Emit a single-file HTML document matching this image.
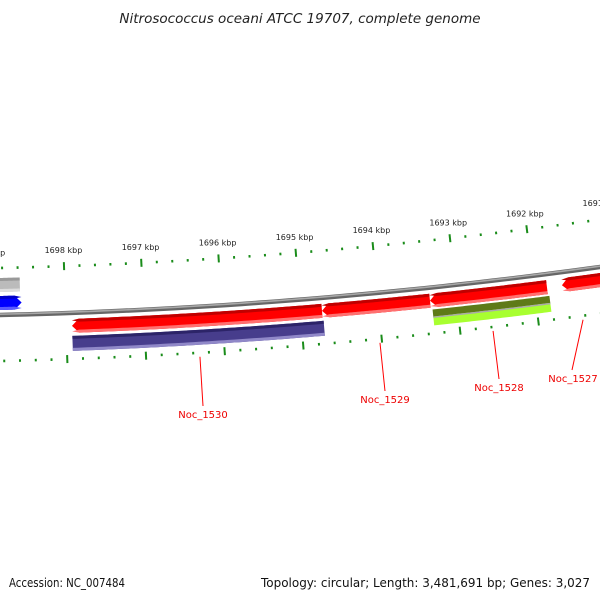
<!DOCTYPE html>
<html><head><meta charset="utf-8">
<style>
html,body{margin:0;padding:0;background:#fff;}
svg{display:block;font-family:"DejaVu Sans","Liberation Sans",sans-serif;}
</style></head>
<body>
<svg id="map" width="600" height="600" viewBox="0 0 600 600" xmlns="http://www.w3.org/2000/svg">
<rect width="600" height="600" fill="#fff"/>
<text x="300" y="23" text-anchor="middle" font-size="13.5" font-style="italic" fill="#222">Nitrosococcus oceani ATCC 19707, complete genome</text>
<text x="9" y="587" font-size="12" fill="#111" textLength="116" lengthAdjust="spacingAndGlyphs">Accession: NC_007484</text>
<text x="261" y="587" font-size="12" fill="#111" textLength="329" lengthAdjust="spacingAndGlyphs">Topology: circular; Length: 3,481,691 bp; Genes: 3,027</text>
<g id="layer"></g>
</svg>
<script>
// data
const majorTicks = [1699000,1698000,1697000,1696000,1695000,1694000,1693000,1692000,1691000];
const majorTickLabels = ["1699 kbp","1698 kbp","1697 kbp","1696 kbp","1695 kbp","1694 kbp","1693 kbp","1692 kbp","1691 kbp"];
const geneNames = ["Noc_1531a","Noc_1531b","Noc_1530","Noc_1530cog","Noc_1529","Noc_1528","Noc_1528cog","Noc_1527"];
const geneStarts = [1698577,1698560,1694726,1694716,1693341,1691837,1691820,1690500];
const geneEnds   = [1699600,1699600,1697925,1697925,1694726,1693341,1693320,1691644];
const geneStrand = [0,1,-1,0,-1,-1,0,-1];
const geneTrack  = ["gray","blue","red","purple","red","red","green","red"];
const labelGenes = ["Noc_1530","Noc_1529","Noc_1528","Noc_1527"];
const labelBp    = [1696317,1694027,1692585,1691435];

const NS="http://www.w3.org/2000/svg";
const layer=document.getElementById('layer');
const R=5260, cx=-119, cy=316.35-5260;
const K=1.485e-5, TH0=Math.asin(183/5213), BP0=1698000;
function ang(bp){return TH0+(BP0-bp)*K;}
function pt(r,t){return [cx+r*Math.sin(t), cy+r*Math.cos(t)];}
function mk(tag,attrs){const e=document.createElementNS(NS,tag);for(const k in attrs)e.setAttribute(k,attrs[k]);layer.appendChild(e);return e;}
function arcPath(r,t1,t2){let d='';const n=60;for(let i=0;i<=n;i++){const p=pt(r,t1+(t2-t1)*i/n);d+=(i?'L':'M')+p[0].toFixed(2)+' '+p[1].toFixed(2);}return d;}
function band(r1,r2,bpA,bpB,strand){
  const tL=ang(bpB), tR=ang(bpA);
  const ah=7/(r1+r2)*2;
  let a=tL,b=tR;
  if(strand===-1)a=tL+ah;
  if(strand===1)b=tR-ah;
  const n=50;let pts=[];
  for(let i=0;i<=n;i++)pts.push(pt(r1,a+(b-a)*i/n));
  if(strand===1)pts.push(pt((r1+r2)/2,tR));
  for(let i=n;i>=0;i--)pts.push(pt(r2,a+(b-a)*i/n));
  if(strand===-1)pts.push(pt((r1+r2)/2,tL));
  return pts.map((p,i)=>(i?'L':'M')+p[0].toFixed(2)+' '+p[1].toFixed(2)).join('')+'Z';
}
let e=mk('path',{d:arcPath(R,-0.02,0.17),fill:'none',stroke:'#666',"stroke-width":4.5});


e=mk('path',{d:arcPath(R-0.8,-0.02,0.17),fill:'none',stroke:'#a8a8a8',"stroke-width":1.6});


const rOut=R-47, rIn=R+46;
for(let bp=1700000;bp>=1690000;bp-=200){
  const major=bp%1000===0;
  const t=ang(bp);
  for(const rr of [rOut,rIn]){
    const p1=pt(rr-(major?4:1.3),t),p2=pt(rr+(major?4:1.3),t);
    const l=mk('line',{x1:p1[0],y1:p1[1],x2:p2[0],y2:p2[1],stroke:'#1a8c1a',"stroke-width":2});
    
    
  }
}
majorTicks.forEach((bp,i)=>{
  const p=pt(rOut-16,ang(bp));
  const tx=mk('text',{x:p[0],y:p[1]+3,"text-anchor":"middle","font-size":"8","fill":"#222"});
  tx.textContent=majorTickLabels[i];
  
  
});
const trackR={gray:[R-37,R-23],blue:[R-19,R-5],red:[R+6,R+20],purple:[R+23,R+38],green:[R+22,R+38]};
const col={gray:['#999','#bbb','#ddd'],blue:['#0000c8','#0000ff','#5a5aff'],red:['#c00000','#ff0000','#ff7070'],purple:['#2c2468','#473d8c','#9088c8'],green:['#5e7a18','#6f9226','#a8ff30']};
geneNames.forEach((nm,i)=>{
  const [r1,r2]=trackR[geneTrack[i]];const c=col[geneTrack[i]];
  const g=document.createElementNS(NS,'g');layer.appendChild(g);
  
  
  const add=(a,b,f)=>{const p=document.createElementNS(NS,'path');p.setAttribute('d',band(a,b,geneStarts[i],geneEnds[i],geneStrand[i]));p.setAttribute('fill',f);g.appendChild(p);};
  if(geneTrack[i]==='green'){add(r1,r1+8,c[0]);add(r1+7,r2,c[2]);add(r1+7,r1+8.5,'#aaa');}
  else{add(r1,r2,c[1]);add(r1,r1+3,c[0]);add(r2-3,r2,c[2]);}
});
const labPos=[[203,418],[385,403],[499,391],[573,382]];
labelGenes.forEach((nm,i)=>{
  const p1=pt(rIn+4,ang(labelBp[i]));
  const [lx,ly]=labPos[i];
  const l=mk('line',{x1:p1[0],y1:p1[1],x2:lx+(i===3?-1:0),y2:ly-12,stroke:'#f00',"stroke-width":1});
  
  
  const t=mk('text',{x:lx,y:ly,"text-anchor":"middle","font-size":"10",fill:'#e00'});
  t.textContent=nm;
  
  
});
</script>
</body></html>
